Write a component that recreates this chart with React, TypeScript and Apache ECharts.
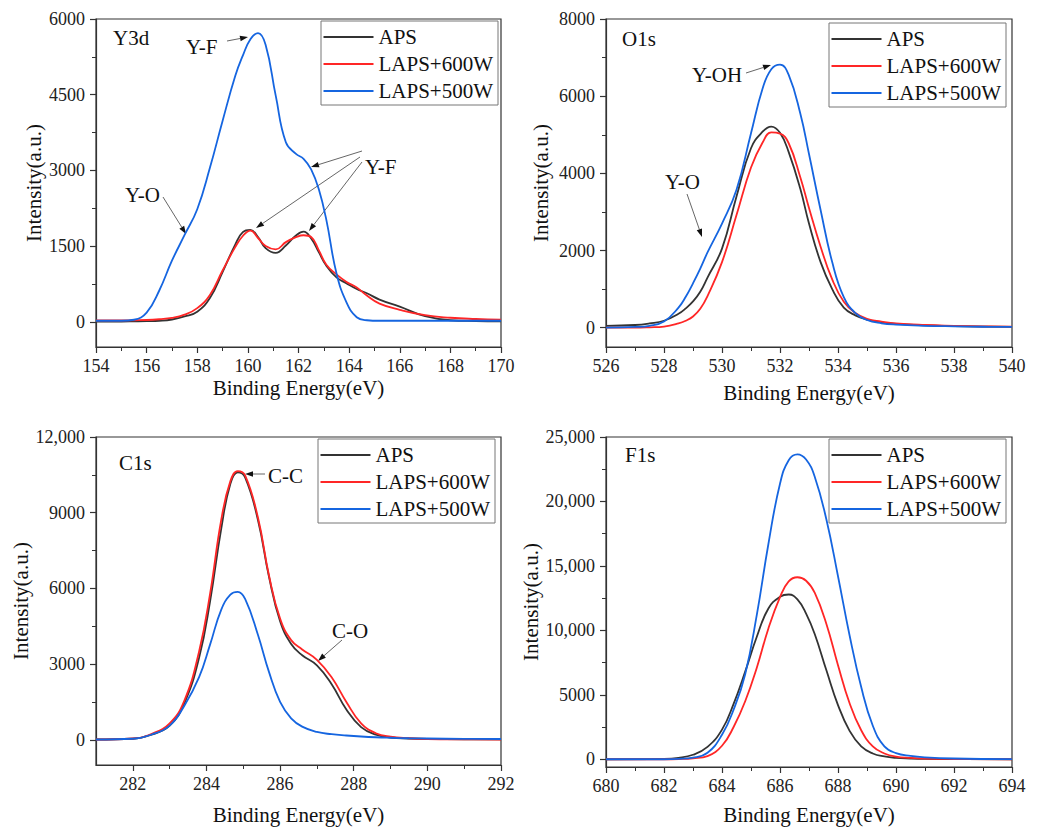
import React, { useEffect, useRef } from "react";
import * as echarts from "echarts";

const SERIES_NAMES = ["APS", "LAPS+600W", "LAPS+500W"];
const COLORS = ["#333333", "#ff2626", "#1565e0"];
const SERIF = "Liberation Serif";

// ---- Y3d ----
const y3dEnergy = [154, 155, 155.5, 156, 156.5, 157, 157.5, 158, 158.5, 159, 159.5, 159.8, 160.1, 160.4, 160.7, 161.1, 161.5, 161.9, 162.2, 162.5, 162.8, 163.1, 163.5, 163.9, 164.3, 164.7, 165.2, 166, 167, 168, 169, 170];
const y3dAPS = [5, 5, 8, 12, 20, 45, 105, 200, 470, 984, 1530, 1776, 1820, 1680, 1460, 1366, 1511, 1709, 1785, 1650, 1380, 1110, 880, 760, 650, 565, 440, 300, 110, 30, 15, 10];
const y3d600 = [25, 25, 30, 35, 50, 75, 140, 270, 530, 1016, 1480, 1700, 1808, 1660, 1500, 1435, 1578, 1677, 1715, 1680, 1420, 1130, 940, 790, 680, 520, 360, 238, 130, 80, 55, 40];
const y3d500 = [20, 20, 40, 180, 620, 1210, 1720, 2230, 3050, 3980, 4870, 5274, 5600, 5720, 5490, 4481, 3558, 3327, 3230, 3020, 2630, 2020, 960, 380, 90, 30, 20, 20, 20, 20, 20, 20];

// ---- O1s ----
const o1sEnergy = [526, 527, 527.5, 528, 528.5, 528.75, 529, 529.25, 529.5, 530, 530.5, 531, 531.4, 531.7, 532, 532.3, 532.7, 533, 533.4, 533.8, 534.2, 534.6, 535, 535.5, 536, 537, 538, 539, 540];
const o1sAPS = [50, 70, 110, 180, 360, 500, 680, 930, 1300, 2050, 3400, 4650, 5080, 5212, 5050, 4550, 3600, 2700, 1700, 1000, 520, 320, 210, 140, 100, 60, 40, 30, 20];
const o1s600 = [0, 0, 10, 30, 110, 180, 290, 490, 820, 1700, 2920, 4150, 4800, 5060, 5030, 4780, 3900, 3100, 2100, 1250, 670, 380, 230, 160, 110, 70, 50, 35, 30];
const o1s500 = [0, 20, 50, 160, 520, 800, 1150, 1530, 1950, 2700, 3573, 5040, 6200, 6700, 6820, 6550, 5550, 4500, 3050, 1700, 790, 380, 200, 115, 80, 50, 35, 25, 20];

// ---- C1s ----
const c1sEnergy = [281, 282, 282.5, 283, 283.4, 283.8, 284.1, 284.4, 284.65, 284.85, 285.05, 285.4, 285.7, 286, 286.3, 286.6, 287, 287.4, 287.8, 288.2, 288.6, 289, 289.5, 290, 291, 292];
const c1sAPS = [10, 40, 200, 560, 1450, 3250, 5500, 8350, 10150, 10600, 10400, 8700, 6450, 4700, 3800, 3350, 2950, 2200, 1200, 500, 200, 90, 50, 30, 20, 15];
const c1s600 = [10, 50, 230, 650, 1550, 3500, 5800, 8700, 10250, 10650, 10480, 8800, 6500, 4800, 3950, 3580, 3170, 2480, 1500, 650, 260, 120, 60, 30, 15, 10];
const c1s500 = [10, 40, 200, 560, 1350, 2480, 3780, 5150, 5750, 5860, 5580, 4150, 2680, 1500, 850, 520, 310, 220, 170, 130, 100, 80, 60, 50, 35, 30];

// ---- F1s ----
const f1sEnergy = [680, 682, 682.5, 683, 683.5, 684, 684.4, 684.8, 685.2, 685.6, 686, 686.3, 686.6, 686.9, 687.2, 687.6, 688, 688.4, 688.8, 689.2, 689.6, 690, 690.5, 691, 692, 694];
const f1sAPS = [0, 30, 110, 350, 960, 2300, 4300, 6800, 9500, 11700, 12600, 12780, 12400, 11300, 9700, 6900, 4200, 2200, 1000, 450, 220, 110, 60, 30, 10, 0];
const f1s600 = [0, 0, 20, 80, 250, 1050, 2500, 4500, 7100, 10150, 12578, 13800, 14120, 13850, 12900, 10500, 7300, 4350, 2250, 1000, 450, 200, 100, 50, 20, 0];
const f1s500 = [0, 0, 30, 120, 500, 1900, 3850, 6600, 11200, 16700, 21376, 23200, 23650, 23250, 21900, 18600, 14200, 9600, 5600, 2600, 1000, 480, 260, 150, 60, 10];

// ---- tick labels ----
const y3dXTicks = [154, 156, 158, 160, 162, 164, 166, 168, 170];
const y3dXMinor = [155, 157, 159, 161, 163, 165, 167, 169];
const y3dYTicks = [0, 1500, 3000, 4500, 6000];
const y3dYMinor = [750, 2250, 3750, 5250];

const o1sXTicks = [526, 528, 530, 532, 534, 536, 538, 540];
const o1sXMinor = [527, 529, 531, 533, 535, 537, 539];
const o1sYTicks = [0, 2000, 4000, 6000, 8000];
const o1sYMinor = [1000, 3000, 5000, 7000];

const c1sXTicks = [282, 284, 286, 288, 290, 292];
const c1sXMinor = [283, 285, 287, 289, 291];
const c1sYTicks = [0, 3000, 6000, 9000, 12000];
const c1sYMinor = [1500, 4500, 7500, 10500];

const f1sXTicks = [680, 682, 684, 686, 688, 690, 692, 694];
const f1sXMinor = [681, 683, 685, 687, 689, 691, 693];
const f1sYTicks = [0, 5000, 10000, 15000, 20000, 25000];
const f1sYMinor = [2500, 7500, 12500, 17500, 22500];

const PANELS = [
  {
    title: "Y3d", energy: y3dEnergy, values: [y3dAPS, y3d600, y3d500],
    xMin: 154, xMax: 170, xTicks: y3dXTicks, xMinor: y3dXMinor,
    yMin: -500, yMax: 6000, yTicks: y3dYTicks, yMinor: y3dYMinor,
    grid: { left: 96, top: 19, width: 405, height: 328 },
    xNameGap: 30, yNameGap: 52,
    legend: { left: 321, top: 21 },
    titlePos: [113, 38],
  },
  {
    title: "O1s", energy: o1sEnergy, values: [o1sAPS, o1s600, o1s500],
    xMin: 526, xMax: 540, xTicks: o1sXTicks, xMinor: o1sXMinor,
    yMin: -500, yMax: 8000, yTicks: o1sYTicks, yMinor: o1sYMinor,
    grid: { left: 606, top: 19, width: 406, height: 328 },
    xNameGap: 35, yNameGap: 55,
    legend: { left: 829, top: 23 },
    titlePos: [622, 39],
  },
  {
    title: "C1s", energy: c1sEnergy, values: [c1sAPS, c1s600, c1s500],
    xMin: 281, xMax: 292, xTicks: c1sXTicks, xMinor: c1sXMinor,
    yMin: -1000, yMax: 12000, yTicks: c1sYTicks, yMinor: c1sYMinor,
    grid: { left: 96, top: 437, width: 405, height: 328 },
    xNameGap: 39, yNameGap: 60,
    legend: { left: 318, top: 439 },
    titlePos: [119, 463],
  },
  {
    title: "F1s", energy: f1sEnergy, values: [f1sAPS, f1s600, f1s500],
    xMin: 680, xMax: 694, xTicks: f1sXTicks, xMinor: f1sXMinor,
    yMin: -600, yMax: 25000, yTicks: f1sYTicks, yMinor: f1sYMinor,
    grid: { left: 606, top: 437, width: 406, height: 330 },
    xNameGap: 37, yNameGap: 65,
    legend: { left: 829, top: 439 },
    titlePos: [625, 455],
  },
];

// annotations (pixel layout of labels and arrows)
const ANNOT_TEXTS: [string, number, number][] = [
  ["Y-F", 186, 47],
  ["Y-F", 365, 167],
  ["Y-O", 125, 195],
  ["Y-OH", 692, 75],
  ["Y-O", 665, 182],
  ["C-C", 268, 476],
  ["C-O", 332, 631],
];
const ANNOT_ARROWS: [number, number, number, number][] = [
  [227, 41, 248, 37],
  [362, 151, 311, 167],
  [360, 157, 256, 228],
  [362, 162, 309, 231],
  [163, 197, 186, 234],
  [746, 73, 771, 65],
  [687, 194, 702, 237],
  [265, 474, 245, 474],
  [342, 640, 318, 661],
];

const fmtY = (v: number) => (Math.abs(v) >= 10000 ? v.toLocaleString("en-US") : String(v));

function arrow(x1: number, y1: number, x2: number, y2: number) {
  const dx = x2 - x1, dy = y2 - y1;
  const len = Math.sqrt(dx * dx + dy * dy);
  const ux = dx / len, uy = dy / len;
  const hl = 8, hw = 2.8;
  const bx = x2 - ux * hl, by = y2 - uy * hl;
  const px = -uy, py = ux;
  return [
    { type: "line", shape: { x1, y1, x2: bx, y2: by }, style: { stroke: "#555", lineWidth: 0.9 }, silent: true },
    {
      type: "polygon",
      shape: { points: [[x2, y2], [bx + px * hw, by + py * hw], [bx - px * hw, by - py * hw]] },
      style: { fill: "#111" },
      silent: true,
    },
  ];
}

export default function App() {
  const ref = useRef<HTMLDivElement>(null);
  useEffect(() => {
    document.body.style.margin = "0";
    if (!ref.current) return;
    const chart = echarts.init(ref.current, null, { renderer: "svg" });

    const grids: any[] = [];
    const xAxes: any[] = [];
    const yAxes: any[] = [];
    const series: any[] = [];
    const legends: any[] = [];
    const graphics: any[] = [];

    const labelStyle = { fontFamily: SERIF, fontSize: 18, color: "#222" };
    const nameStyle = { fontFamily: SERIF, fontSize: 21, color: "#111" };

    PANELS.forEach((p, i) => {
      grids.push({ ...p.grid, show: true, borderColor: "#333", borderWidth: 1.2, backgroundColor: "transparent" });
      const axisLine = { show: true, onZero: false, lineStyle: { color: "#333", width: 1.2 } };
      xAxes.push({
        type: "value", gridIndex: i, min: p.xMin, max: p.xMax, position: "bottom",
        axisLine, splitLine: { show: false },
        axisTick: { show: true, inside: false, length: 6, customValues: p.xTicks, lineStyle: { color: "#333", width: 1.2 } },
        axisLabel: { ...labelStyle, customValues: p.xTicks, margin: 10, showMinLabel: true, showMaxLabel: true, textStyle: labelStyle },
        name: "Binding Energy(eV)", nameLocation: "middle", nameGap: p.xNameGap,
        nameTextStyle: nameStyle,
      });
      xAxes.push({
        type: "value", gridIndex: i, min: p.xMin, max: p.xMax, position: "bottom", offset: 0,
        axisLine: { show: false, onZero: false }, splitLine: { show: false }, axisLabel: { show: false },
        axisTick: { show: true, inside: false, length: 4, customValues: p.xMinor, lineStyle: { color: "#333", width: 1 } },
      });
      yAxes.push({
        type: "value", gridIndex: i, min: p.yMin, max: p.yMax, position: "left",
        axisLine, splitLine: { show: false },
        axisTick: { show: true, inside: false, length: 6, customValues: p.yTicks, lineStyle: { color: "#333", width: 1.2 } },
        axisLabel: { ...labelStyle, customValues: p.yTicks, margin: 11, formatter: fmtY, textStyle: labelStyle },
        name: "Intensity(a.u.)", nameLocation: "middle", nameGap: p.yNameGap,
        nameTextStyle: nameStyle,
      });
      yAxes.push({
        type: "value", gridIndex: i, min: p.yMin, max: p.yMax, position: "left", offset: 0,
        axisLine: { show: false, onZero: false }, splitLine: { show: false }, axisLabel: { show: false },
        axisTick: { show: true, inside: false, length: 4, customValues: p.yMinor, lineStyle: { color: "#333", width: 1 } },
      });
      p.values.forEach((vals, s) => {
        series.push({
          type: "line", name: SERIES_NAMES[s], xAxisIndex: 2 * i, yAxisIndex: 2 * i,
          data: p.energy.map((e, k) => [e, vals[k]]),
          smooth: 0.45, symbol: "none", showSymbol: false,
          lineStyle: { color: COLORS[s], width: 1.8 }, itemStyle: { color: COLORS[s] },
          clip: true,
        });
      });
      legends.push({
        orient: "vertical", left: p.legend.left, top: p.legend.top,
        padding: [5.5, 5, 3.5, 2.5], itemWidth: 50, itemHeight: 2, itemGap: 6,
        icon: "rect",
        borderColor: "#777", borderWidth: 1, selectedMode: false,
        textStyle: { fontFamily: SERIF, fontSize: 21, color: "#111", lineHeight: 21 },
        data: SERIES_NAMES,
      });
      graphics.push({
        type: "text", left: p.titlePos[0], top: p.titlePos[1] - 11,
        style: { text: p.title, font: `21px ${SERIF}`, fill: "#111" },
      });
    });

    ANNOT_TEXTS.forEach(([t, x, y]) => {
      graphics.push({
        type: "text", x, y,
        style: { text: t, font: `21px ${SERIF}`, fill: "#111", textVerticalAlign: "middle", verticalAlign: "middle" },
      });
    });
    ANNOT_ARROWS.forEach(([x1, y1, x2, y2]) => {
      graphics.push(...arrow(x1, y1, x2, y2));
    });

    chart.setOption({
      animation: false,
      backgroundColor: "#fff",
      textStyle: { fontFamily: SERIF },
      grid: grids,
      xAxis: xAxes,
      yAxis: yAxes,
      legend: legends,
      series,
      graphic: graphics,
    });
    return () => chart.dispose();
  }, []);
  return <div ref={ref} style={{ width: 1037, height: 827 }} />;
}
